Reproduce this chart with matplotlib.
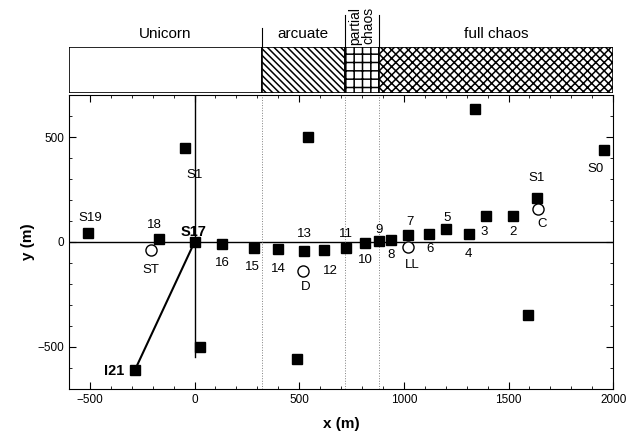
import numpy as np
import matplotlib.pyplot as plt
from matplotlib.patches import Rectangle
from matplotlib.ticker import MultipleLocator

plt.rcParams['font.family'] = ['Liberation Sans', 'DejaVu Sans']
plt.rcParams['hatch.linewidth'] = 1.1

# station positions (m), filled squares
sq_x = [-510, -170, 0, -45, 130, 285, 400, 525, 540, 620, 725, 815, 880, 940,
        1020, 1120, 1200, 1310, 1390, 1520, 1635, 1955, 1340, 1595, 25, 490, -285]
sq_y = [45, 15, 0, 450, -10, -30, -35, -45, 500, -40, -30, -5, 3, 10,
        35, 40, 60, 40, 125, 125, 210, 440, 635, -350, -500, -555, -610]

# open circles
circ_x = [-210, 520, 1020, 1640]
circ_y = [-40, -140, -25, 155]

# point labels: text, x, y
lab_text = ['S19', '18', 'S1', '16', '15', '14', '13', 'ST', 'D', '12', '11', '10',
            '9', '8', '7', 'LL', '6', '5', '4', '3', '2', 'S1', 'C', 'S0']
lab_x = [-500, -190, 0, 135, 275, 400, 525, -210, 530, 650, 722, 815,
         880, 938, 1030, 1040, 1124, 1205, 1306, 1383, 1521, 1636, 1660, 1918]
lab_y = [114, 80, 320, -100, -120, -130, 38, -133, -215, -138, 38, -86,
         57, -62, 95, -110, -33, 114, -57, 48, 48, 305, 86, 348]

bold_text = ['S17', 'I21']
bold_x = [-5, -383]
bold_y = [48, -614]

# regimes along x
reg_names = ['Unicorn', 'arcuate', 'partial\nchaos', 'full chaos']
reg_edges = [-600, 320, 720, 880, 2000]
reg_hatch = [None, '\\' * 5, '++', 'xxxx']

fig = plt.figure(figsize=(6.27, 4.38), dpi=100)
ax = fig.add_axes([0.110, 0.112, 0.868, 0.671])
band = fig.add_axes([0.110, 0.788, 0.868, 0.105])

# main panel
ax.set_xlim(-600, 2000)
ax.set_ylim(-700, 700)
ax.axhline(0, color='black', lw=1.0, zorder=1)
ax.plot([0, 0], [-550, 700], color='black', lw=1.0, zorder=1)
for xe in reg_edges[1:-1]:
    ax.axvline(xe, color='gray', lw=0.7, ls=':', zorder=1)
ax.plot([sq_x[-1], 0], [sq_y[-1], 0], color='black', lw=1.5, zorder=2)

ax.plot(sq_x, sq_y, 's', color='black', ms=6.5, zorder=3)
ax.plot(circ_x, circ_y, 'o', mfc='white', mec='black', mew=1.0, ms=8, zorder=3)

for t, x, y in zip(lab_text, lab_x, lab_y):
    ax.text(x, y, t, ha='center', va='center', fontsize=9.5)
for t, x, y in zip(bold_text, bold_x, bold_y):
    ax.text(x, y, t, ha='center', va='center', fontsize=10.5, fontweight='bold')

ax.xaxis.set_major_locator(MultipleLocator(500))
ax.xaxis.set_minor_locator(MultipleLocator(100))
ax.yaxis.set_major_locator(MultipleLocator(500))
ax.yaxis.set_minor_locator(MultipleLocator(100))
ax.tick_params(which='both', direction='in', top=True, right=True, labelsize=8.5)
ax.tick_params(which='major', length=5)
ax.tick_params(which='minor', length=2.5)
ax.set_xlabel('x (m)', fontsize=11, fontweight='bold', labelpad=8)
ax.set_ylabel('y (m)', fontsize=11, fontweight='bold', labelpad=2)

# regime band
band.set_xlim(-600, 2000)
band.set_ylim(0, 1)
band.axis('off')
for i, name in enumerate(reg_names):
    x0, x1 = reg_edges[i], reg_edges[i + 1]
    band.add_patch(Rectangle((x0, 0), x1 - x0, 1, facecolor='white',
                             edgecolor='black', lw=1.2, hatch=reg_hatch[i]))
    xm = (x0 + x1) / 2
    if i == 2:
        band.text(xm, 1.05, name, ha='center', va='bottom', rotation=90,
                  fontsize=10, linespacing=0.9)
    else:
        band.text(xm, 1.12, name, ha='center', va='bottom', fontsize=11)
for i, xe in enumerate(reg_edges[1:-1]):
    top = 1.4 if i == 0 else 1.7
    band.plot([xe, xe], [1, top], color='black', lw=0.8, clip_on=False)

fig.savefig('out.png', dpi=100)
